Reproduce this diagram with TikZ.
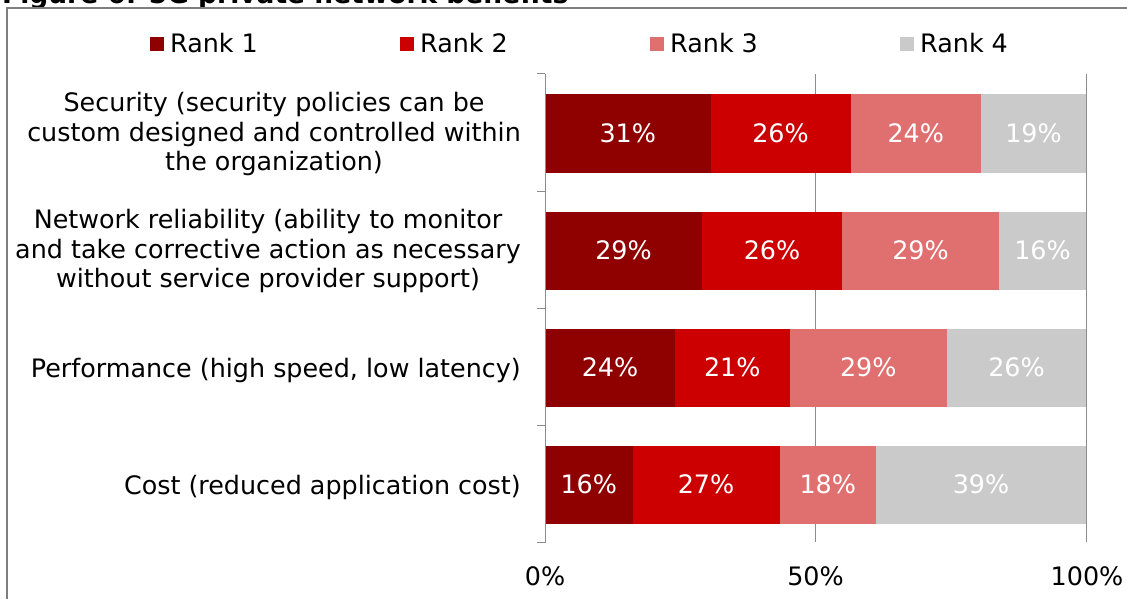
\documentclass[tikz,border=0pt]{standalone}
\usepackage{fontspec}
\setmainfont{DejaVu Sans}
\definecolor{rone}{HTML}{8F0000}
\definecolor{rtwo}{HTML}{CC0000}
\definecolor{rthree}{HTML}{E07070}
\definecolor{rfour}{HTML}{CACACA}
\definecolor{axisgray}{HTML}{8C8C8C}
\definecolor{framegray}{HTML}{7F7F7F}
\newcommand\barseg[6]{%
  \fill[#5] (#2,#4) rectangle (#3,#4+78);
  \node[val, anchor=base] (#1) at ({(#2+#3)/2},{#4+48}) {#6};}
\begin{document}
\begin{tikzpicture}[x=1pt,y=-1pt,
  lbl/.style={font=\fontsize{25.4}{29.6}\selectfont, text=black, inner sep=0pt, align=center},
  val/.style={font=\fontsize{25.4}{30}\selectfont, text=white, inner sep=0pt},
  legsq/.style={minimum size=14pt, inner sep=0pt, anchor=north west},
  axislbl/.style={font=\fontsize{25.4}{30}\selectfont, text=black, inner sep=0pt, anchor=base},
  gridln/.style={axisgray, line width=1pt},
  titlefont/.style={font=\fontsize{26.5}{30}\selectfont\bfseries, inner sep=0pt}]
\useasboundingbox (0,0) rectangle (1127,599);
\clip (0,0) rectangle (1127,599);
% title (cut off at top, as in the reference)
\node[titlefont, anchor=base west] (title) at (2,4) {Figure 6: 5G private network benefits};
% chart area
\fill[white] (7,8) rectangle (1140,610);
\draw[framegray, line width=1.8pt] (7,610) -- (7,8) -- (1140,8);
% legend
\node[legsq, fill=rone] (l1) at (150,37) {};
\node[lbl, anchor=base west] (t1) at (170,53) {Rank 1};
\node[legsq, fill=rtwo] (l2) at (400,37) {};
\node[lbl, anchor=base west] (t2) at (420,53) {Rank 2};
\node[legsq, fill=rthree] (l3) at (650,37) {};
\node[lbl, anchor=base west] (t3) at (670,53) {Rank 3};
\node[legsq, fill=rfour] (l4) at (900,37) {};
\node[lbl, anchor=base west] (t4) at (920,53) {Rank 4};
% gridlines
\draw[gridln] (815.5,74) -- (815.5,542);
\draw[gridln] (1086,74) -- (1086,542);
% bars
\barseg{a1}{545}{710.5}{94.5}{rone}{31\%}
\barseg{a2}{710.5}{850.5}{94.5}{rtwo}{26\%}
\barseg{a3}{850.5}{981}{94.5}{rthree}{24\%}
\barseg{a4}{981}{1086}{94.5}{rfour}{19\%}
\barseg{b1}{545}{702}{211.5}{rone}{29\%}
\barseg{b2}{702}{842}{211.5}{rtwo}{26\%}
\barseg{b3}{842}{999}{211.5}{rthree}{29\%}
\barseg{b4}{999}{1086}{211.5}{rfour}{16\%}
\barseg{c1}{545}{675}{328.5}{rone}{24\%}
\barseg{c2}{675}{789.5}{328.5}{rtwo}{21\%}
\barseg{c3}{789.5}{947}{328.5}{rthree}{29\%}
\barseg{c4}{947}{1086}{328.5}{rfour}{26\%}
\barseg{d1}{545}{632.5}{445.5}{rone}{16\%}
\barseg{d2}{632.5}{779.5}{445.5}{rtwo}{27\%}
\barseg{d3}{779.5}{876}{445.5}{rthree}{18\%}
\barseg{d4}{876}{1086}{445.5}{rfour}{39\%}
% axis and ticks
\draw[gridln] (545,74) -- (545,542.5);
\foreach \yy in {74,191,308,425,542} \draw[gridln] (537,\yy) -- (545,\yy);
% category labels
\node[lbl, anchor=east] (catA) at (521,134) {Security (security policies can be\\custom designed and controlled within\\the organization)};
\node[lbl, anchor=east] (catB) at (521,251) {Network reliability (ability to monitor\\and take corrective action as necessary\\without service provider support)};
\node[lbl, anchor=base east] (catC) at (521,377) {Performance (high speed, low latency)};
\node[lbl, anchor=base east] (catD) at (521,494) {Cost (reduced application cost)};
% axis labels
\node[axislbl] (x0) at (545,585) {0\%};
\node[axislbl] (x50) at (815.5,585) {50\%};
\node[axislbl] (x100) at (1087,585) {100\%};
\end{tikzpicture}
\end{document}
